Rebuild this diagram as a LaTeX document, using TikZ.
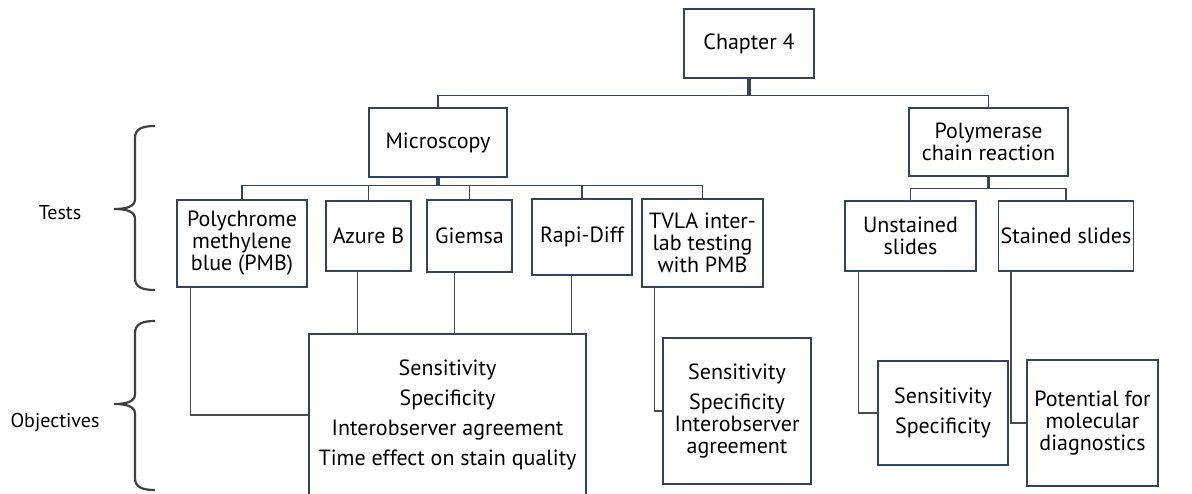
\documentclass[tikz,border=0pt]{standalone}
\usepackage{fontspec}
\setmainfont{PT Sans}
\usepackage{tikz}
\definecolor{boxc}{HTML}{34425F}
\definecolor{linkc}{HTML}{37445F}
\definecolor{footc}{HTML}{4A4A4A}
\definecolor{bracec}{HTML}{404040}

\begin{document}
\begin{tikzpicture}[x=0.5pt,y=-0.5pt,
    box/.style={draw=boxc, line width=0.7pt, align=center, inner sep=1pt,
      font=\fontsize{11}{11}\selectfont},
    boxsize/.style 2 args={minimum width=#1*0.5pt, minimum height=#2*0.5pt},
    link/.style={draw=linkc, line width=0.7pt},
    foot/.style={draw=footc, line width=0.7pt},
    brace/.style={draw=bracec, line width=1.1pt},
    side/.style={font=\fontsize{10}{12}\selectfont}]
  \useasboundingbox (0,0) rectangle (1192,493);

  % top levels
  \node[box, boxsize={130}{69}] (chap) at (749,43.5) {Chapter 4};
  \node[box, boxsize={138}{69}] (micro) at (438,142.5) {Microscopy};
  \node[box, boxsize={159}{68}] (pcr) at (988.5,142) {Polymerase\\chain reaction};

  % tests
  \node[box, boxsize={130}{87}] (pmb) at (242,243.5) {Polychrome\\methylene\\blue (PMB)};
  \node[box, boxsize={85}{70}] (azure) at (368.5,236) {Azure B};
  \node[box, boxsize={85}{72}] (giemsa) at (469.5,236) {Giemsa};
  \node[box, boxsize={100}{76}] (rapi) at (582,237) {Rapi-Diff};
  \node[box, boxsize={121}{88}] (tvla) at (702.5,243) {TVLA inter-\\lab testing\\with PMB};
  \node[box, boxsize={131}{70}] (unst) at (910.5,236) {Unstained\\slides};
  \node[box, boxsize={130}{70}] (stnd) at (1066,236) {Stained slides};

  % objectives
  \node[box, boxsize={277}{162}] (objA) at (447.5,415)
    {Sensitivity\\[4pt]Specificity\\[4pt]Interobserver agreement\\[4pt]Time effect on stain quality};
  \node[box, boxsize={148}{146}] (objT) at (737,411)
    {Sensitivity\\[4pt]Specificity\\Interobserver\\agreement};
  \node[box, boxsize={130}{104}] (objU) at (943,413) {Sensitivity\\[4pt]Specificity};
  \node[box, boxsize={131}{126}] (objS) at (1092.5,423) {Potential for\\molecular\\diagnostics};

  % tree links
  \draw[link, line width=1.6pt] (chap.south) -- ++(0,17) coordinate (chapbus);
  \draw[link] (chapbus) -| (micro.north);
  \draw[link] (chapbus) -| (pcr.north);

  \draw[link, line width=1.6pt] (micro.south) -- ++(0,8) coordinate (microbus);
  \foreach \t in {pmb,azure,giemsa,rapi,tvla}
    \draw[link] (microbus) -| (\t.north);

  \draw[link, line width=1.6pt] (pcr.south) -- ++(0,12) coordinate (pcrbus);
  \foreach \t in {unst,stnd}
    \draw[link] (pcrbus) -| (\t.north);

  % test -> objective
  \foreach \t/\dx in {azure/16pt, giemsa/14pt, rapi/20pt} {
    \coordinate (\t foot) at ([xshift=\dx]\t.south west);
    \draw[foot] (\t foot) -- (\t foot |- objA.north);
  }
  \foreach \t/\dx/\o in {pmb/7pt/objA, tvla/6.5pt/objT, unst/7pt/objU, stnd/6.5pt/objS} {
    \coordinate (\t foot) at ([xshift=\dx]\t.south west);
    \draw[foot] (\t foot) |- (\o.west);
  }

  % braces
  \foreach \ya/\yb/\ym in {126/290/209, 321/490/404} {
    \draw[brace] (155,\ya) .. controls (142,\ya) and (135,\ya+3) .. (135,\ya+12)
      -- (135,\ym-10) .. controls (135,\ym-3) and (128,\ym) .. (114,\ym)
      .. controls (128,\ym) and (135,\ym+3) .. (135,\ym+10)
      -- (135,\yb-12) .. controls (135,\yb-3) and (142,\yb) .. (155,\yb);
  }
  \node[side] (tests) at (60,213) {Tests};
  \node[side] (objs) at (55,422) {Objectives};

\end{tikzpicture}
\end{document}
